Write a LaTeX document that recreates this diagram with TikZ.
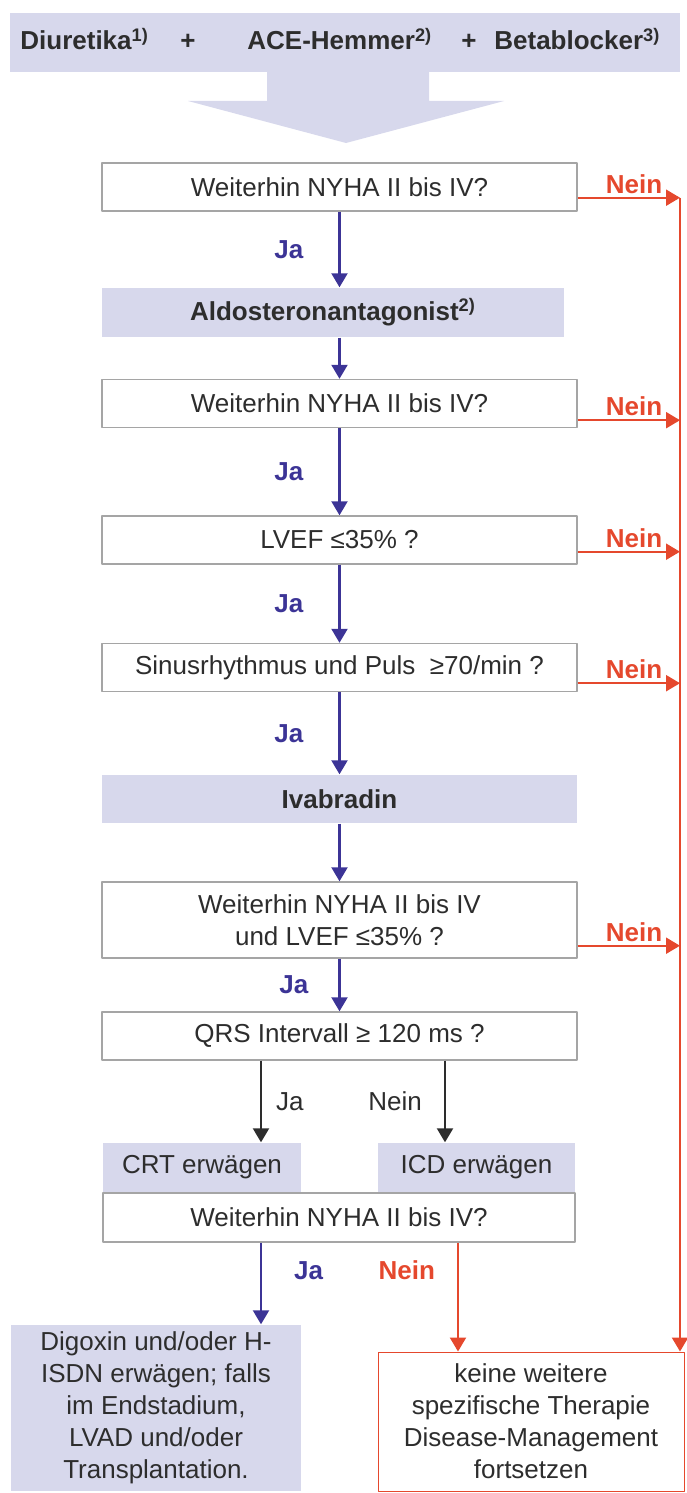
\documentclass[tikz,border=0pt]{standalone}
\usepackage{fontspec}
\setmainfont{Liberation Sans}
\usetikzlibrary{arrows.meta,positioning,calc}
\definecolor{lav}{RGB}{215,216,236}
\definecolor{jablue}{RGB}{60,52,150}
\definecolor{neinred}{RGB}{229,72,45}
\definecolor{boxgray}{RGB}{165,165,165}
\definecolor{txtgray}{RGB}{45,45,45}
\newcommand \myneinarrow[2]
{
\coordinate (#1n) at ([yshift=#2]#1.south east);
\draw[nein] (#1n)--(#1n -| rail) node[pos=0.55,above,nlab] {Nein};
}
\begin{document}
\begin{tikzpicture}[x=0.5pt,y=-0.5pt, line join=round,
  every node/.style={font=\fontsize{13}{16}\selectfont, text=txtgray},
  askbox/.style={draw=boxgray, line width=0.7pt, fill=white, inner sep=0pt, align=center, minimum width=237.5pt, minimum height=24pt},
  hintbox/.style={askbox, draw=none, fill=lav},
  drugbox/.style={hintbox, font=\fontsize{13}{16}\selectfont\bfseries},
  endbox/.style={askbox, draw=neinred, line width=0.5pt},
  drug/.style={inner sep=0pt, font=\fontsize{13}{16}\selectfont\bfseries},
  ja/.style={draw=jablue, line width=1.1pt, -{Triangle[length=7pt,width=8pt]}},
  nein/.style={draw=neinred, line width=1.1pt, -{Triangle[length=7pt,width=8pt]}},
  blk/.style={draw=txtgray, line width=1.1pt, -{Triangle[length=7pt,width=8pt]}},
  jalab/.style={text=jablue, inner sep=1pt, font=\fontsize{13}{16}\selectfont\bfseries},
  nlab/.style={text=neinred, inner sep=1.5pt, font=\fontsize{13}{16}\selectfont\bfseries},
  klab/.style={inner sep=1pt}]
\useasboundingbox (0,0) rectangle (686,1493);
\coordinate (rail) at (680,0);
\coordinate (colA) at (261,0);
\coordinate (colB) at (445,0);
\coordinate (colC) at (458,0);
\node[hintbox,minimum width=335pt,minimum height=29.5pt] (top) at (345,42.5) {};
\node[drug,anchor=base west] (diur) at (20,50) {Diuretika\textsuperscript{1)}};
\node[drug,anchor=base] (plusA) at (188,50) {+};
\node[drug,anchor=base west] (ace) at (247,50) {ACE-Hemmer\textsuperscript{2)}};
\node[drug,anchor=base] (plusB) at (469,50) {+};
\node[drug,anchor=base west] (beta) at (494,50) {Betablocker\textsuperscript{3)}};
\fill[lav] (267,70)--(429,70)--(429,101)--(504,101)--(346,143)--(188,101)--(267,101)--cycle;
\node[askbox] (q1) at (339.5,187) {Weiterhin NYHA II bis IV?};
\node[drugbox,minimum width=231pt,minimum height=24.5pt] (aldo) at (333,312.5) {Aldosteronantagonist\textsuperscript{2)}};
\node[askbox] (q2) at (339.5,403.5) {Weiterhin NYHA II bis IV?};
\node[askbox] (lvef) at (339.5,540) {LVEF ≤35\% ?};
\node[askbox] (sinus) at (339.5,667.5) {Sinusrhythmus und Puls \ ≥70/min ?};
\node[drugbox] (ivab) at (339.5,799) {Ivabradin};
\node[askbox,minimum height=38pt] (q3) at (339.5,920) {Weiterhin NYHA II bis IV\\und LVEF ≤35\% ?};
\node[askbox] (qrs) at (339.5,1036) {QRS Intervall ≥ 120 ms ?};
\node[hintbox,minimum width=99pt,minimum height=24.5pt] (crt) at (202,1167.5) {CRT erwägen};
\node[hintbox,minimum width=98.5pt,minimum height=24.5pt] (icd) at (476.5,1167.5) {ICD erwägen};
\node[askbox,minimum width=236pt,minimum height=24.5pt] (q4) at (339,1217.5) {Weiterhin NYHA II bis IV?};
\node[hintbox,minimum width=145pt,minimum height=83pt] (digo) at (156,1408) {Digoxin und/oder H-\\ISDN erwägen; falls\\im Endstadium,\\LVAD und/oder\\Transplantation.};
\node[endbox,minimum width=153pt,minimum height=69.5pt] (keine) at (531,1421.5) {keine weitere\\spezifische Therapie\\Disease-Management\\fortsetzen};
\draw[ja] (q1.south)--(aldo.north -| q1.south) node[midway,left=16.5pt,jalab] {Ja};
\draw[ja] (aldo.south -| q2.north)--(q2.north);
\draw[ja] (q2.south)--(lvef.north) node[midway,left=16.5pt,jalab] {Ja};
\draw[ja] (lvef.south)--(sinus.north) node[midway,left=16.5pt,jalab] {Ja};
\draw[ja] (sinus.south)--(ivab.north) node[midway,left=16.5pt,jalab] {Ja};
\draw[ja] (ivab.south)--(q3.north);
\draw[ja] (q3.south)--(qrs.north) node[midway,left=14pt,jalab] {Ja};
\draw[blk] (qrs.south -| colA)--(crt.north -| colA) node[midway,right=6pt,klab] {Ja};
\draw[blk] (qrs.south -| colB)--(icd.north -| colB) node[midway,left=10pt,klab] {Nein};
\draw[ja] (q4.south -| colA)--(digo.north -| colA) node[pos=0.34,right=15pt,jalab] {Ja};
\draw[nein] (q4.south -| colC)--(keine.north -| colC) node[pos=0.25,left=9.5pt,nlab] {Nein};
\myneinarrow{q1}{7pt}
\myneinarrow{q2}{4pt}
\myneinarrow{lvef}{6.5pt}
\myneinarrow{sinus}{4.5pt}
\myneinarrow{q3}{6.5pt}
\draw[nein] (q1n -| rail)--(keine.north -| rail);
\end{tikzpicture}
\end{document}
